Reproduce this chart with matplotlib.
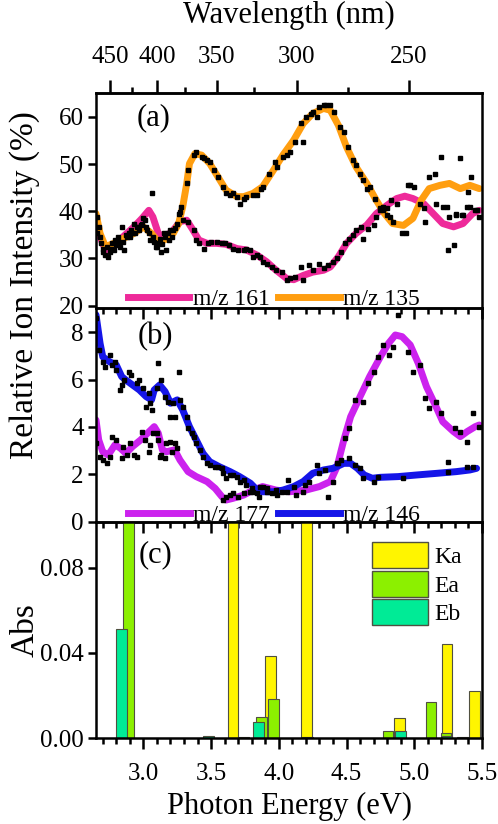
import numpy as np
import matplotlib.pyplot as plt
from matplotlib.lines import Line2D
from matplotlib.patches import Patch
from matplotlib.ticker import MultipleLocator, FormatStrFormatter

plt.rcParams['font.family'] = ['Liberation Serif', 'DejaVu Serif']

# ---- panel (a): smoothed curves ----
e_161 = [2.65, 2.68, 2.72, 2.78, 2.85, 2.93, 2.99, 3.04, 3.07, 3.11, 3.15, 3.21, 3.27, 3.32,
         3.36, 3.41, 3.47, 3.54, 3.61, 3.69, 3.76, 3.84, 3.91, 3.98, 4.06, 4.11, 4.18, 4.25,
         4.33, 4.38, 4.44, 4.50, 4.57, 4.65, 4.72, 4.80, 4.87, 4.93, 4.99, 5.07, 5.14, 5.21,
         5.29, 5.36, 5.43, 5.48]
i_161 = [37.4, 34.6, 31.8, 32.5, 34.6, 36.7, 38.5, 40.2, 38.8, 35.3, 34.6, 35.6, 37.8, 38.1,
         36.3, 33.9, 33.2, 33.2, 33.0, 32.1, 31.8, 30.7, 29.3, 27.5, 25.7, 25.5, 26.4, 27.1,
         27.5, 28.2, 30.4, 33.2, 35.3, 37.1, 39.5, 41.3, 42.7, 43.2, 42.7, 41.6, 39.5, 37.4,
         36.7, 37.4, 39.5, 40.2]

e_135 = [2.65, 2.68, 2.72, 2.78, 2.85, 2.93, 3.00, 3.06, 3.11, 3.16, 3.22, 3.26, 3.29, 3.32,
         3.34, 3.38, 3.43, 3.49, 3.55, 3.61, 3.69, 3.74, 3.81, 3.88, 3.96, 4.03, 4.11, 4.18,
         4.25, 4.33, 4.38, 4.44, 4.50, 4.57, 4.65, 4.72, 4.78, 4.84, 4.92, 4.99, 5.05, 5.11,
         5.19, 5.26, 5.34, 5.41, 5.48]
i_135 = [39.5, 35.3, 32.5, 33.2, 34.2, 35.3, 36.7, 35.3, 33.5, 34.0, 35.3, 37.4, 40.9, 45.9,
         50.1, 52.2, 51.9, 50.1, 47.3, 44.5, 43.1, 43.1, 43.8, 45.2, 48.7, 51.9, 55.1, 58.6,
         60.7, 61.8, 61.4, 58.2, 53.6, 49.4, 45.9, 42.3, 39.5, 37.4, 37.0, 38.5, 42.3, 44.8,
         45.5, 45.9, 44.8, 45.5, 44.8]

# panel (a): raw data points
dots_a = [
    (2.655, 38.8), (2.66, 35.5), (2.67, 36.7), (2.68, 34.6), (2.69, 33.2), (2.70, 31.4),
    (2.70, 32.0), (2.72, 30.7), (2.73, 32.5), (2.74, 30.4), (2.75, 31.4), (2.76, 32.0),
    (2.77, 33.2), (2.78, 31.8), (2.79, 33.9), (2.80, 32.8), (2.81, 34.6), (2.82, 33.5),
    (2.83, 32.5), (2.84, 36.7), (2.85, 33.5), (2.86, 31.8), (2.87, 35.0), (2.88, 34.6),
    (2.89, 35.3), (2.90, 34.6), (2.91, 36.0), (2.92, 35.5), (2.93, 37.4), (2.94, 35.3),
    (2.95, 36.7), (2.96, 36.7), (2.97, 36.0), (2.98, 37.0), (2.99, 37.4), (3.00, 38.5),
    (3.01, 38.1), (3.02, 36.7), (3.03, 36.0), (3.04, 35.3), (3.05, 33.9), (3.06, 43.8),
    (3.07, 34.6), (3.08, 33.5), (3.09, 32.5), (3.10, 32.5), (3.11, 33.2), (3.12, 34.2),
    (3.13, 31.4), (3.14, 33.0), (3.15, 35.3), (3.16, 34.6), (3.17, 31.8), (3.18, 35.3),
    (3.19, 34.0), (3.20, 36.0), (3.21, 34.6), (3.22, 36.0), (3.23, 36.5), (3.25, 37.4),
    (3.26, 39.5), (3.27, 39.9), (3.28, 40.9), (3.29, 38.1),
    # m/z 135 points
    (3.32, 45.9), (3.33, 48.7), (3.37, 51.9), (3.39, 52.6), (3.43, 51.5), (3.45, 51.2),
    (3.47, 50.8), (3.49, 50.5), (3.52, 48.7), (3.55, 47.3), (3.59, 45.2), (3.61, 43.8),
    (3.64, 43.4), (3.66, 43.8), (3.69, 43.1), (3.71, 41.6), (3.74, 42.7), (3.76, 43.1),
    (3.81, 43.4), (3.84, 43.4), (3.87, 44.8), (3.88, 45.2), (3.93, 48.0), (3.97, 50.5),
    (3.99, 49.4), (4.03, 51.5), (4.06, 51.9), (4.08, 52.6), (4.12, 54.7), (4.16, 58.6),
    (4.18, 54.7), (4.20, 60.0), (4.24, 60.7), (4.25, 61.1), (4.28, 60.0), (4.30, 62.1),
    (4.33, 62.5), (4.35, 62.5), (4.38, 62.5), (4.41, 61.1), (4.45, 57.9), (4.48, 56.8),
    (4.51, 53.6), (4.55, 50.8), (4.57, 49.8), (4.60, 48.0), (4.62, 46.6), (4.65, 44.8),
    (4.67, 45.2), (4.71, 42.7), (4.75, 40.6), (4.77, 40.2), (4.80, 39.2), (4.82, 38.8),
    (4.84, 37.8), (4.91, 35.3), (4.94, 35.3), (4.97, 45.5), (5.00, 45.2), (5.04, 41.6),
    (5.08, 37.8), (5.11, 47.3), (5.15, 48.0), (5.20, 51.5), (5.24, 40.9), (5.25, 31.8),
    (5.29, 32.8), (5.31, 39.5), (5.34, 51.2), (5.35, 39.2), (5.39, 40.9), (5.40, 44.1),
    (5.42, 47.3), (5.45, 40.2), (5.48, 38.8),
    # m/z 161 points
    (3.33, 37.8), (3.37, 36.0), (3.39, 33.9), (3.41, 33.2), (3.45, 32.1), (3.48, 33.2),
    (3.50, 33.5), (3.54, 33.5), (3.58, 33.2), (3.60, 33.2), (3.63, 32.8), (3.66, 32.1),
    (3.70, 31.8), (3.74, 31.8), (3.76, 32.1), (3.79, 31.8), (3.81, 30.4), (3.84, 30.7),
    (3.86, 30.4), (3.88, 29.3), (3.91, 28.9), (3.95, 28.2), (3.98, 27.5), (4.02, 27.2),
    (4.06, 25.4), (4.08, 25.8), (4.12, 26.1), (4.16, 28.2), (4.18, 25.4), (4.22, 28.6),
    (4.25, 27.5), (4.30, 28.9), (4.33, 27.9), (4.36, 28.6), (4.40, 29.3), (4.43, 30.0),
    (4.46, 31.4), (4.49, 33.2), (4.52, 34.2), (4.55, 34.9), (4.57, 36.0), (4.61, 36.7),
    (4.62, 34.2), (4.66, 36.3), (4.70, 37.1), (4.72, 38.8), (4.75, 40.2), (4.77, 40.9),
    (4.80, 40.6), (4.83, 42.3), (4.87, 41.6), (4.95, 45.5), (5.07, 40.6), (5.16, 41.6),
    (5.21, 40.9), (5.26, 38.8), (5.31, 39.2), (5.36, 39.2), (5.41, 40.9), (5.46, 40.2),
]

# ---- panel (b): smoothed curves ----
e_177 = [2.65, 2.67, 2.70, 2.74, 2.79, 2.83, 2.87, 2.92, 2.98, 3.03, 3.08, 3.11, 3.14, 3.17,
         3.23, 3.27, 3.33, 3.39, 3.47, 3.53, 3.58, 3.61, 3.66, 3.74, 3.81, 3.88, 3.98, 4.08,
         4.20, 4.30, 4.38, 4.43, 4.48, 4.53, 4.60, 4.67, 4.75, 4.81, 4.86, 4.91, 4.97, 5.03,
         5.09, 5.16, 5.21, 5.29, 5.34, 5.39, 5.45, 5.48]
i_177 = [4.29, 3.45, 2.95, 2.81, 3.24, 3.10, 2.88, 3.17, 3.45, 3.73, 4.01, 3.73, 3.03, 2.95,
         3.03, 2.60, 2.11, 1.90, 1.69, 1.40, 1.05, 0.91, 0.98, 1.12, 1.33, 1.48, 1.33, 1.26,
         1.33, 1.48, 1.69, 2.32, 3.45, 4.43, 5.28, 6.12, 6.96, 7.53, 7.88, 7.81, 7.46, 6.68,
         5.70, 4.86, 4.22, 3.80, 3.59, 3.80, 4.01, 4.08]

e_146 = [2.65, 2.68, 2.70, 2.75, 2.80, 2.84, 2.87, 2.92, 2.97, 3.02, 3.06, 3.08, 3.12, 3.16,
         3.20, 3.25, 3.29, 3.34, 3.39, 3.44, 3.49, 3.56, 3.64, 3.71, 3.79, 3.84, 3.88, 3.96,
         4.03, 4.11, 4.18, 4.25, 4.33, 4.40, 4.48, 4.53, 4.58, 4.63, 4.69, 4.75, 4.88, 5.02,
         5.17, 5.31, 5.41, 5.46]
i_146 = [8.73, 7.53, 6.96, 6.75, 6.61, 6.12, 5.98, 5.77, 5.56, 5.28, 5.14, 5.56, 5.77, 5.49,
         5.00, 5.14, 4.72, 4.01, 3.45, 2.88, 2.53, 2.32, 2.11, 1.90, 1.62, 1.33, 1.26, 1.26,
         1.33, 1.48, 1.69, 2.04, 2.18, 2.25, 2.46, 2.46, 2.25, 1.97, 1.83, 1.87, 1.90, 1.97,
         2.04, 2.11, 2.18, 2.25]

# panel (b): raw data points
dots_b = [
    # m/z 146 points
    (2.65, 8.59), (2.67, 7.25), (2.70, 6.76), (2.72, 6.53), (2.75, 7.03), (2.77, 6.61),
    (2.79, 6.76), (2.80, 6.40), (2.83, 5.56), (2.84, 5.77), (2.86, 5.98), (2.89, 6.33),
    (2.91, 6.19), (2.95, 5.84), (2.97, 5.98), (3.00, 5.63), (3.02, 4.86), (3.04, 5.42),
    (3.05, 5.00), (3.06, 4.72), (3.10, 5.63), (3.11, 6.68), (3.13, 5.98), (3.16, 5.28),
    (3.18, 5.07), (3.20, 4.43), (3.22, 5.00), (3.23, 4.43), (3.26, 6.33), (3.27, 5.14),
    (3.29, 4.86), (3.32, 4.43), (3.33, 3.94), (3.36, 3.73), (3.37, 3.59), (3.39, 3.31),
    (3.42, 3.03), (3.44, 2.74), (3.47, 2.46), (3.49, 2.39), (3.53, 2.32), (3.55, 2.32),
    (3.58, 2.25), (3.59, 2.04), (3.61, 1.83), (3.64, 1.97), (3.66, 1.97), (3.69, 1.90),
    (3.71, 1.69), (3.74, 1.76), (3.76, 1.55), (3.80, 1.40), (3.81, 1.26), (3.84, 1.19),
    (3.85, 1.05), (3.88, 1.48), (3.91, 1.26), (3.95, 1.19), (3.99, 1.12), (4.02, 1.26),
    (4.07, 1.76), (4.11, 1.48), (4.13, 1.12), (4.19, 1.55), (4.22, 1.69), (4.28, 2.39),
    (4.30, 2.04), (4.34, 2.18), (4.43, 2.46), (4.46, 2.60), (4.52, 2.67), (4.56, 2.39),
    (4.60, 2.25), (4.62, 1.83), (4.70, 1.69), (4.73, 1.90), (4.92, 1.83), (5.25, 2.53),
    (5.25, 2.11), (5.39, 2.32), (5.43, 2.32),
    # m/z 177 points
    (2.65, 3.31), (2.68, 2.74), (2.70, 2.60), (2.73, 2.46), (2.75, 2.74), (2.77, 3.59),
    (2.80, 3.45), (2.84, 2.67), (2.85, 3.17), (2.88, 2.81), (2.90, 3.31), (2.93, 2.81),
    (2.95, 2.74), (2.99, 3.80), (3.01, 3.45), (3.04, 2.95), (3.05, 3.24), (3.07, 3.73),
    (3.10, 3.73), (3.11, 3.45), (3.12, 2.74), (3.13, 2.81), (3.16, 2.67), (3.17, 3.31),
    (3.20, 3.38), (3.21, 2.95), (3.23, 3.31), (3.25, 3.10), (3.59, 0.91), (3.61, 1.05),
    (3.64, 1.12), (3.66, 1.19), (3.70, 1.05), (3.74, 1.19), (3.79, 1.26), (3.86, 1.48),
    (3.91, 1.41), (3.98, 1.33), (4.06, 1.26), (4.18, 1.26), (4.36, 1.05), (4.40, 1.69),
    (4.44, 2.46), (4.49, 3.52), (4.52, 3.94), (4.56, 5.14), (4.62, 5.07), (4.66, 5.84),
    (4.70, 6.33), (4.73, 6.96), (4.77, 7.46), (4.81, 7.03), (4.84, 7.39), (4.88, 8.73),
    (4.95, 7.18), (4.99, 6.33), (5.04, 6.61), (5.08, 5.21), (5.11, 4.79), (5.16, 5.07),
    (5.20, 4.57), (5.30, 3.94), (5.34, 3.80), (5.39, 3.38), (5.43, 4.57), (5.48, 4.01),
]

# ---- panel (c): calculated transitions ----
ka_e = [3.66, 3.94, 4.205, 4.89, 5.24, 5.445]
ka_h = [0.12, 0.0384, 0.12, 0.0096, 0.0442, 0.0223]
ea_e = [2.892, 3.74, 3.87, 3.96, 4.21, 4.805, 5.125, 5.235, 5.355]
ea_h = [0.12, 0.0005, 0.0102, 0.0184, 0.0006, 0.0036, 0.0168, 0.0026, 0.0008]
eb_e = [2.838, 3.48, 3.85, 4.90, 5.24]
eb_h = [0.0513, 0.0012, 0.0075, 0.0036, 0.0012]

c161, c135 = '#EE2A9A', '#FF9E10'
c177, c146 = '#CC22EE', '#1515E8'
cka, cea, ceb = '#FFF500', '#8CF000', '#00EB96'
edge = '#505040'

fig = plt.figure(figsize=(4.98, 8.24), dpi=100)
L, W = 96 / 498, 386 / 498
ax1 = fig.add_axes([L, 1 - 308 / 824, W, 214.7 / 824], facecolor='none')
ax2 = fig.add_axes([L, 1 - 521.6 / 824, W, 213.6 / 824], facecolor='none')
ax3 = fig.add_axes([L, 1 - 738.3 / 824, W, 216.7 / 824], facecolor='none')

lw = 5
ax1.plot(e_161, i_161, color=c161, lw=lw, solid_capstyle='round')
ax1.plot(e_135, i_135, color=c135, lw=lw, solid_capstyle='round')
da = np.array(dots_a)
ax1.plot(da[:, 0], da[:, 1], 's', color='black', ms=3.2, zorder=5)

ax2.plot(e_177, i_177, color=c177, lw=lw, solid_capstyle='round')
ax2.plot(e_146, i_146, color=c146, lw=lw, solid_capstyle='round')
db = np.array(dots_b)
ax2.plot(db[:, 0], db[:, 1], 's', color='black', ms=3.2, zorder=5)

bw = 0.078
ax3.bar(ka_e, ka_h, width=bw, color=cka, edgecolor=edge, lw=0.8)
ax3.bar(ea_e, ea_h, width=bw, color=cea, edgecolor=edge, lw=0.8)
ax3.bar(eb_e, eb_h, width=bw, color=ceb, edgecolor=edge, lw=0.8)

ax1.set_ylim(19.5, 65)
ax2.set_ylim(0, 9.02)
ax3.set_ylim(0, 0.1016)
ax1.yaxis.set_major_locator(MultipleLocator(10))
ax2.yaxis.set_major_locator(MultipleLocator(2))
ax3.set_yticks([0, 0.04, 0.08])
ax3.yaxis.set_major_formatter(FormatStrFormatter('%.2f'))

for ax in (ax1, ax2, ax3):
    ax.set_xlim(2.65, 5.5)
    ax.xaxis.set_major_locator(MultipleLocator(0.5))
    ax.xaxis.set_minor_locator(MultipleLocator(0.1))
    ax.xaxis.set_major_formatter(FormatStrFormatter('%.1f'))
    for s in ax.spines.values():
        s.set_linewidth(1.8)
    ax.tick_params(which='both', direction='out', width=1.8, labelsize=18,
                   top=False, right=False)
    ax.tick_params(axis='x', which='major', length=8, pad=10)
    ax.tick_params(axis='x', which='minor', length=4)
    ax.tick_params(axis='y', which='major', length=6, pad=3)
ax1.tick_params(axis='x', labelbottom=False)
ax2.tick_params(axis='x', labelbottom=False)

ev2nm = lambda x: 1239.84 / np.asarray(x, dtype=float)
sec = ax1.secondary_xaxis('top', functions=(ev2nm, ev2nm))
sec.set_xticks([450, 400, 350, 300, 250])
sec.set_xticks([425, 375, 325, 275], minor=True)
sec.spines['top'].set_linewidth(1.8)
sec.tick_params(which='both', direction='out', width=1.8, labelsize=18)
sec.tick_params(which='major', length=9.5, pad=9)
sec.tick_params(which='minor', length=4)
sec.set_xlabel('Wavelength (nm)', fontsize=22, labelpad=16)

ax3.set_xlabel('Photon Energy (eV)', fontsize=22, labelpad=5)
fig.text(0.05, 1 - 285 / 824, 'Relative Ion Intensity (%)', rotation=90,
         ha='center', va='center', fontsize=24)
fig.text(0.05, 1 - 630 / 824, 'Abs', rotation=90, ha='center', va='center', fontsize=24)

ax1.text(0.148, 0.885, '(a)', transform=ax1.transAxes, fontsize=22, ha='center', va='center')
ax2.text(0.153, 0.866, '(b)', transform=ax2.transAxes, fontsize=22, ha='center', va='center')
ax3.text(0.153, 0.846, '(c)', transform=ax3.transAxes, fontsize=22, ha='center', va='center')

leg_kw = dict(ncol=2, frameon=False, loc='lower center', fontsize=17, handlelength=2.6,
              handletextpad=0.15, columnspacing=0.35, borderpad=0, borderaxespad=0)
ax1.legend([Line2D([], [], color=c161, lw=lw), Line2D([], [], color=c135, lw=lw)],
           ['m/z 161', 'm/z 135'], bbox_to_anchor=(0.461, -0.01), **leg_kw)
ax2.legend([Line2D([], [], color=c177, lw=lw), Line2D([], [], color=c146, lw=lw)],
           ['m/z 177', 'm/z 146'], bbox_to_anchor=(0.462, -0.02), **leg_kw)
ax3.legend([Patch(facecolor=cka, edgecolor=edge), Patch(facecolor=cea, edgecolor=edge),
            Patch(facecolor=ceb, edgecolor=edge)], ['Ka', 'Ea', 'Eb'],
           loc='upper left', bbox_to_anchor=(0.714, 0.905), frameon=False, fontsize=17,
           handlelength=2.4, handleheight=1.3, labelspacing=0.12, handletextpad=0.25,
           borderpad=0, borderaxespad=0)

fig.savefig('out.png', dpi=100)
